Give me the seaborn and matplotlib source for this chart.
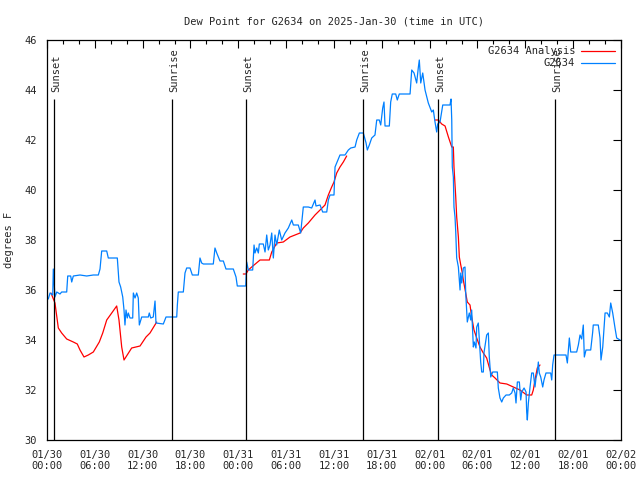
import numpy as np
import pandas as pd
import seaborn as sns
import matplotlib
matplotlib.use("Agg")
import matplotlib.pyplot as plt
import matplotlib.dates as mdates

# hours after 2025-01-30 00:00 UTC, dew point in degrees F
obs_hours = [0.16, 0.38, 0.72, 0.79, 1.00, 1.22, 1.63, 1.84, 2.47, 2.60, 2.97, 3.10, 3.30, 4.14, 4.98,
             5.81, 6.44, 6.65, 6.86, 7.49, 7.69, 8.82, 9.03, 9.24, 9.50, 9.66, 9.78, 9.91, 10.07, 10.20,
             10.41, 10.75, 10.83, 11.04, 11.25, 11.45, 11.58, 11.88, 12.71, 12.83, 13.01, 13.33, 13.55,
             13.67, 14.59, 14.93, 16.27, 16.35, 16.47, 17.10, 17.31, 17.52, 17.94, 18.23, 18.98, 19.19,
             19.40, 19.61, 20.86, 21.07, 21.29, 21.70, 22.12, 22.45, 23.37, 23.71, 23.87, 24.93, 25.05,
             25.25, 25.80, 25.97, 26.09, 26.31, 26.51, 26.63, 27.13, 27.35, 27.56, 27.76, 27.97, 28.19,
             28.39, 28.60, 28.81, 29.14, 29.44, 29.85, 30.27, 30.70, 30.90, 31.52, 31.82, 32.15, 32.78,
             33.20, 33.62, 33.74, 34.25, 34.58, 35.09, 35.29, 35.50, 36.00, 36.13, 36.34, 36.75, 37.38,
             37.80, 38.10, 38.64, 38.85, 39.18, 39.68, 40.02, 40.18, 40.43, 40.73, 41.14, 41.36, 41.68,
             41.86, 42.11, 42.27, 42.40, 42.94, 43.11, 43.31, 43.74, 43.94, 44.19, 45.54, 45.75, 46.04,
             46.37, 46.57, 46.70, 46.88, 47.13, 47.42, 47.83, 48.26, 48.46, 48.67, 48.88, 49.01, 49.30,
             49.64, 50.55, 50.68, 50.77, 50.84, 50.97, 51.05, 51.18, 51.27, 51.39, 51.60, 51.81, 51.90,
             52.02, 52.22, 52.43, 52.52, 52.72, 52.97, 53.15, 53.27, 53.48, 53.60, 53.81, 53.90, 54.10,
             54.23, 54.40, 54.53, 54.73, 54.81, 55.15, 55.36, 55.48, 55.66, 55.91, 56.49, 56.61, 56.82,
             57.04, 57.24, 57.58, 57.99, 58.29, 58.49, 58.71, 58.83, 59.00, 59.25, 59.42, 59.55, 59.84,
             60.09, 60.17, 60.25, 60.38, 60.59, 60.80, 61.00, 61.21, 61.34, 61.50, 61.63, 61.75, 61.93,
             62.18, 62.34, 62.59, 63.18, 63.31, 63.43, 63.60, 65.10, 65.27, 65.52, 65.69, 66.44, 66.65,
             66.86, 67.07, 67.27, 67.40, 67.61, 68.20, 68.45, 68.52, 69.15, 69.37, 69.49, 69.71, 70.00,
             70.29, 70.54, 70.71, 70.96, 71.25, 71.46, 71.88]
obs_dewpt = [35.64, 35.88, 35.8, 36.84, 35.72, 35.92, 35.84, 35.92, 35.92, 36.56, 36.56, 36.32, 36.56,
             36.6, 36.56, 36.6, 36.6, 36.84, 37.56, 37.56, 37.28, 37.28, 36.32, 36.12, 35.72, 35.2, 34.6,
             35.2, 34.88, 35.08, 34.88, 34.88, 35.88, 35.68, 35.88, 35.68, 34.6, 34.92, 34.92, 35.08,
             34.88, 34.92, 35.56, 34.68, 34.64, 34.92, 34.92, 35.4, 35.92, 35.92, 36.68, 36.88, 36.88,
             36.6, 36.6, 37.28, 37.08, 37.04, 37.04, 37.68, 37.48, 37.16, 37.16, 36.84, 36.84, 36.52,
             36.16, 36.16, 37.12, 36.8, 36.8, 37.8, 37.48, 37.68, 37.48, 37.84, 37.84, 37.52, 38.2, 37.6,
             37.8, 38.28, 37.28, 38.2, 37.8, 38.4, 38.0, 38.28, 38.48, 38.8, 38.6, 38.6, 38.28, 39.32,
             39.32, 39.28, 39.6, 39.36, 39.4, 39.12, 39.12, 39.6, 39.8, 39.8, 40.92, 41.08, 41.4, 41.4,
             41.6, 41.68, 41.72, 42.0, 42.28, 42.28, 41.88, 41.6, 41.8, 42.08, 42.2, 42.8, 42.8, 42.6,
             43.28, 43.52, 42.56, 42.56, 43.52, 43.84, 43.84, 43.6, 43.84, 43.84, 44.8, 44.68, 44.28,
             44.88, 45.2, 44.28, 44.68, 44.0, 43.48, 43.12, 43.2, 42.72, 42.32, 42.64, 42.72, 43.4, 43.4,
             43.64, 42.8, 40.92, 40.52, 39.32, 38.92, 38.32, 37.28, 36.92, 36.0, 36.68, 36.28, 36.88,
             36.92, 35.88, 34.72, 35.08, 34.8, 35.2, 33.72, 33.92, 33.68, 34.52, 34.68, 34.0, 33.12,
             32.72, 32.72, 33.48, 34.2, 34.28, 33.32, 32.52, 32.72, 32.72, 32.08, 31.68, 31.52, 31.68,
             31.8, 31.8, 31.88, 32.08, 31.88, 31.48, 32.32, 32.32, 31.6, 31.92, 32.08, 31.92, 31.12, 30.8,
             31.48, 32.12, 32.68, 32.68, 32.12, 32.48, 32.68, 33.12, 32.68, 32.52, 32.12, 32.4, 32.68,
             32.68, 32.4, 33.0, 33.4, 33.4, 33.08, 34.08, 33.52, 33.52, 33.8, 34.2, 34.04, 34.6, 33.32,
             33.6, 33.6, 34.32, 34.6, 34.6, 34.08, 33.2, 33.72, 35.08, 35.08, 34.92, 35.48, 35.08, 34.48,
             34.08, 34.0]

# analysis comes in three separate runs
ana1_hours = [0.50, 1.00, 1.42, 1.84, 2.47, 3.30, 3.80, 4.14, 4.64, 5.18, 5.81, 6.56, 6.99, 7.49, 8.12,
              8.74, 9.03, 9.37, 9.66, 10.62, 11.67, 12.42, 12.92, 13.76]
ana1_dewpt = [35.88, 35.48, 34.48, 34.28, 34.04, 33.92, 33.84, 33.6, 33.32, 33.4, 33.52, 33.92, 34.28,
              34.8, 35.08, 35.36, 34.8, 33.72, 33.2, 33.68, 33.76, 34.12, 34.28, 34.72]
ana2_hours = [24.62, 24.96, 25.25, 25.68, 26.72, 27.89, 28.19, 28.81, 29.64, 30.48, 31.74, 32.15, 32.78,
              33.62, 34.25, 34.87, 35.29, 35.71, 36.00, 36.34, 36.75, 37.17, 37.59]
ana2_dewpt = [36.64, 36.64, 36.8, 36.92, 37.2, 37.2, 37.52, 37.88, 37.92, 38.12, 38.28, 38.48, 38.68,
              39.0, 39.2, 39.4, 39.8, 40.12, 40.32, 40.68, 40.92, 41.12, 41.36]
ana3_hours = [48.67, 49.09, 49.51, 49.93, 50.35, 50.77, 50.97, 51.05, 51.27, 51.39, 51.60, 51.72, 51.90,
              52.10, 52.22, 52.52, 52.72, 53.06, 53.27, 53.56, 53.90, 54.31, 54.73, 55.15, 55.57, 55.78,
              56.20, 56.82, 57.67, 58.49, 59.33, 60.17, 60.80, 61.00, 61.21, 61.50, 61.84]
ana3_dewpt = [42.8, 42.8, 42.64, 42.56, 42.12, 41.72, 41.72, 40.92, 39.72, 38.92, 38.12, 37.32, 37.0,
              36.68, 36.4, 35.88, 35.52, 35.4, 34.92, 34.4, 34.08, 33.72, 33.48, 33.28, 32.8, 32.6, 32.48,
              32.28, 32.24, 32.12, 32.0, 31.8, 31.8, 32.0, 32.4, 32.88, 33.0]

sun_hours = [0.92, 15.72, 25.0, 39.68, 49.08, 63.76]
sun_labels = ["Sunset", "Sunrise", "Sunset", "Sunrise", "Sunset", "Sunrise"]

start = pd.Timestamp("2025-01-30 00:00")


def to_time(hours):
    return start + pd.to_timedelta(np.array(hours), unit="h")


sns.set_style("white")
plt.rcParams["font.family"] = ["DejaVu Sans Mono"]
plt.rcParams["font.size"] = 7.5

fig = plt.figure(figsize=(6.4, 4.8), dpi=100)
ax = fig.add_axes([47 / 640, 40 / 480, 574 / 640, 400 / 480])

red = "#ff0000"
blue = "#0080ff"

for i, (h, v) in enumerate([(ana1_hours, ana1_dewpt), (ana2_hours, ana2_dewpt), (ana3_hours, ana3_dewpt)]):
    df = pd.DataFrame({"time": to_time(h), "dewpt": v})
    sns.lineplot(data=df, x="time", y="dewpt", ax=ax, color=red, lw=0.9, sort=False, estimator=None,
                 label="G2634 Analysis" if i == 0 else None)

obs = pd.DataFrame({"time": to_time(obs_hours), "dewpt": obs_dewpt})
sns.lineplot(data=obs, x="time", y="dewpt", ax=ax, color=blue, lw=0.9, sort=False, estimator=None,
             label="G2634")

# sunrise / sunset markers
sun_t = to_time(sun_hours)
ax.vlines(sun_t, 30, 43.64, color="black", lw=0.9)
for t, lab in zip(sun_t, sun_labels):
    ax.annotate(lab, (t, 43.92), xytext=(1.5, 0), textcoords="offset points",
                rotation=90, ha="center", va="bottom", fontsize=7.5)

ax.set_xlim(start, start + pd.Timedelta(hours=72))
ax.set_ylim(30, 46)
ax.set_yticks(np.arange(30, 47, 2))
ax.xaxis.set_major_locator(mdates.HourLocator(byhour=[0, 6, 12, 18]))
ax.xaxis.set_minor_locator(mdates.HourLocator(interval=2))
ax.xaxis.set_major_formatter(mdates.DateFormatter("%m/%d\n%H:%M"))
ax.tick_params(which="both", direction="in", top=True, right=True, labelsize=7.5, color="black")
ax.tick_params(which="major", length=6, width=0.8, pad=7)
ax.tick_params(which="minor", length=3, width=0.8)
for s in ax.spines.values():
    s.set_color("black")
    s.set_linewidth(0.9)

ax.set_xlabel("")
ax.set_ylabel("degrees F", fontsize=7.5, labelpad=8)
ax.set_title("Dew Point for G2634 on 2025-Jan-30 (time in UTC)", fontsize=7.5, pad=11)

ax.legend(loc="upper right", frameon=False, markerfirst=False, fontsize=7.5, handlelength=3.2,
          borderaxespad=0.2, labelspacing=0.2, handletextpad=0.6)

fig.savefig("out.png", dpi=100)
